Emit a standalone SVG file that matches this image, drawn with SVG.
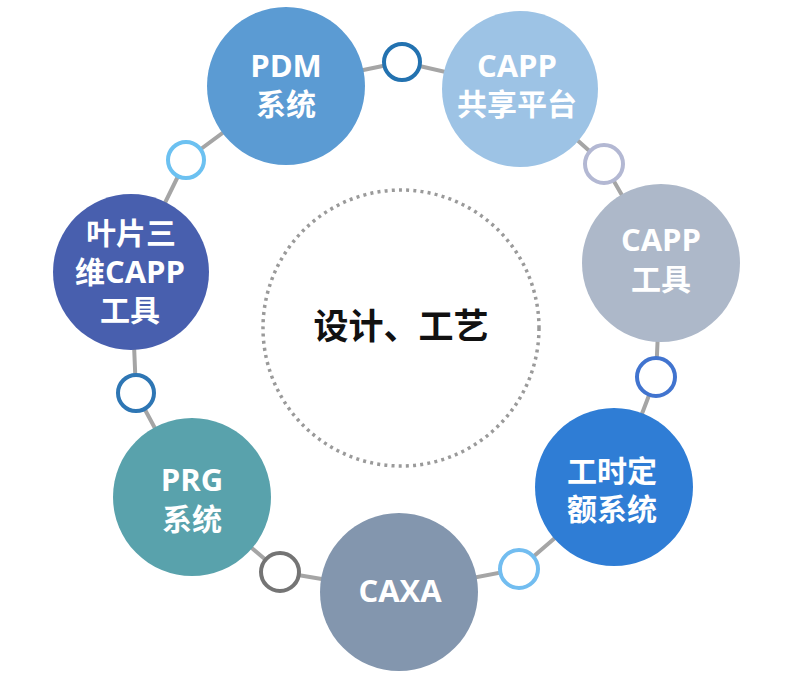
<svg xmlns="http://www.w3.org/2000/svg" width="793" height="676" viewBox="0 0 793 676">
<style>
.node{stroke:none}
.lbl{font-family:"Open Sans","Noto Sans CJK SC",sans-serif;font-weight:700;fill:#ffffff;text-anchor:middle}
.lat{font-size:31px}
.cjk{font-size:30px}
.joint{fill:#ffffff;stroke-width:4}
.ring{fill:none;stroke:#a5a5a5;stroke-width:4;stroke-linejoin:round}
</style>
<rect width="793" height="676" fill="#ffffff"/>
<g id="center">
<circle cx="401" cy="328" r="138" fill="none" stroke="#9a9a9a" stroke-width="3.5" stroke-dasharray="3 4.2"/>
<text x="401" y="339" font-family="'Noto Sans CJK SC',sans-serif" font-weight="700" font-size="35" fill="#111111" text-anchor="middle">设计、工艺</text>
</g>
<g id="connectors">
<polygon class="ring" points="286,86 402,62 520,89 604,164 661,263 656,377 614,487 519,569 399,592 280,572 192,497 136,393 131,272 186,160"/>
<circle class="joint" cx="402" cy="62" r="18" stroke="#2372b0"/>
<circle class="joint" cx="604" cy="164" r="19" stroke="#b3b8d3"/>
<circle class="joint" cx="656" cy="377" r="19" stroke="#4174cf"/>
<circle class="joint" cx="519" cy="569" r="19" stroke="#72bdf0"/>
<circle class="joint" cx="280" cy="572" r="19" stroke="#747474"/>
<circle class="joint" cx="136" cy="393" r="18" stroke="#2e76b4"/>
<circle class="joint" cx="186" cy="160" r="18" stroke="#6cc1f1"/>
</g>
<g id="pdm">
<circle class="node" cx="286" cy="86" r="79" fill="#5b9bd3"/>
<text class="lbl lat" x="286" y="77">PDM</text>
<text class="lbl cjk" x="286" y="115">系统</text>
</g>
<g id="capp-platform">
<circle class="node" cx="520" cy="89" r="78" fill="#9dc3e5"/>
<text class="lbl lat" x="517" y="77">CAPP</text>
<text class="lbl cjk" x="517" y="115">共享平台</text>
</g>
<g id="capp-tool">
<circle class="node" cx="661" cy="263" r="79" fill="#adb8c9"/>
<text class="lbl lat" x="661" y="251">CAPP</text>
<text class="lbl cjk" x="661" y="290">工具</text>
</g>
<g id="worktime">
<circle class="node" cx="614" cy="487" r="79" fill="#2f7dd5"/>
<text class="lbl cjk" x="612" y="482">工时定</text>
<text class="lbl cjk" x="612" y="520">额系统</text>
</g>
<g id="caxa">
<circle class="node" cx="399" cy="592" r="79" fill="#8396ae"/>
<text class="lbl lat" x="400" y="602">CAXA</text>
</g>
<g id="prg">
<circle class="node" cx="192" cy="497" r="79" fill="#59a2ac"/>
<text class="lbl lat" x="192" y="491">PRG</text>
<text class="lbl cjk" x="192" y="530">系统</text>
</g>
<g id="blade">
<circle class="node" cx="131" cy="272" r="78" fill="#485fae"/>
<text class="lbl cjk" x="131" y="244">叶片三</text>
<text class="lbl" x="130" y="283"><tspan font-size="30px">维</tspan><tspan font-size="31px">CAPP</tspan></text>
<text class="lbl cjk" x="130" y="321">工具</text>
</g>
</svg>
